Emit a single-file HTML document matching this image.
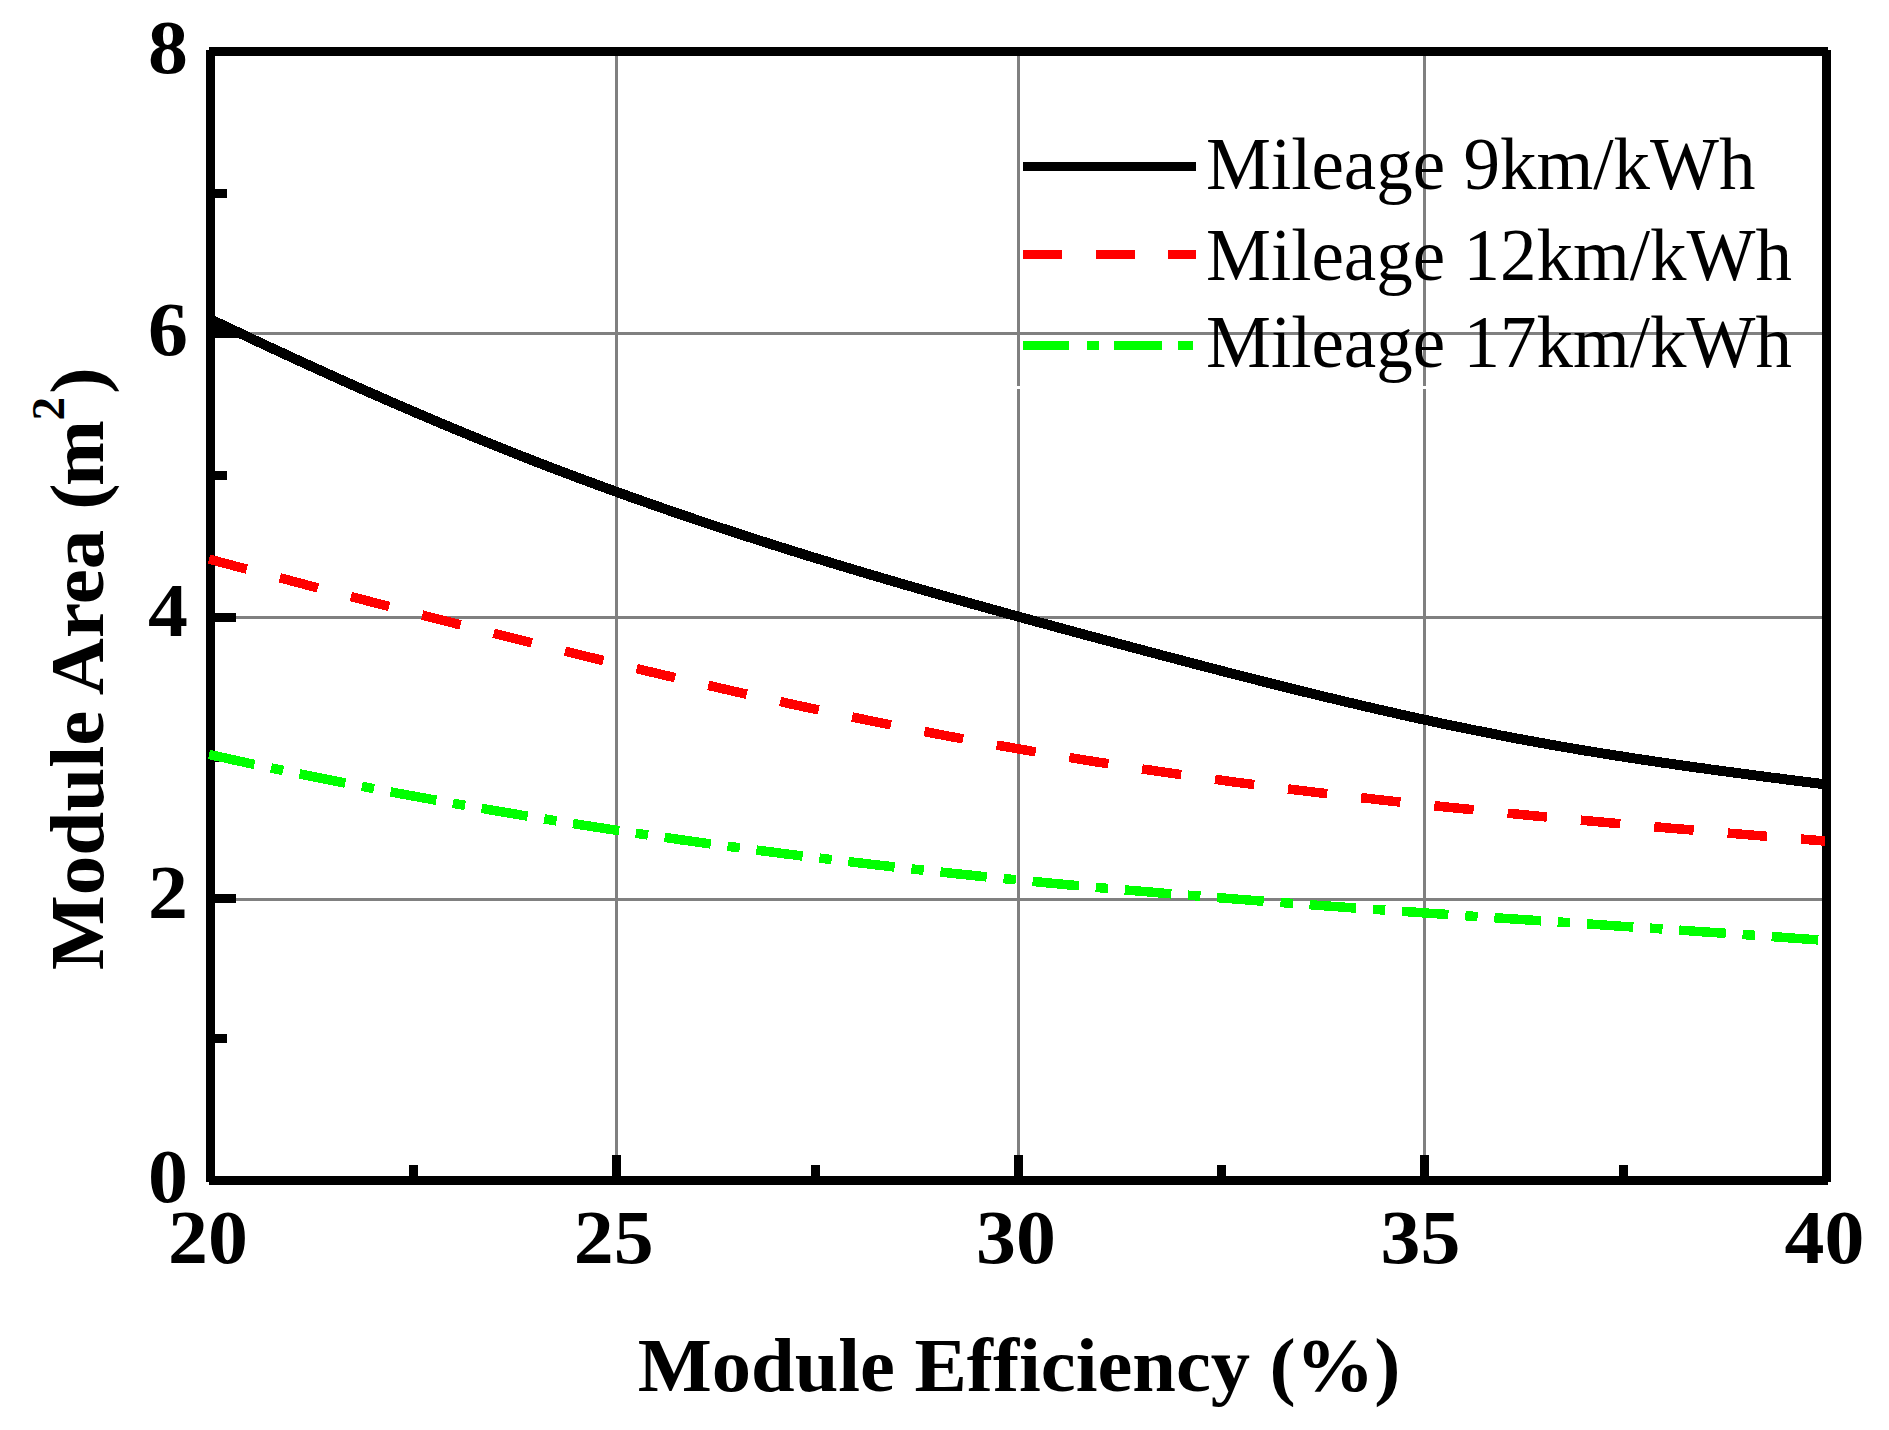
<!DOCTYPE html>
<html lang="en">
<head>
<meta charset="utf-8">
<title>Module Area vs Module Efficiency</title>
<style>
html,body{margin:0;padding:0;background:#fff;}
body{width:1889px;height:1430px;overflow:hidden;}
svg{display:block;}
.b{font-family:"Liberation Serif","Times New Roman",serif;font-weight:bold;fill:#000;}
.r{font-family:"Liberation Serif","Times New Roman",serif;font-weight:normal;fill:#000;}
</style>
</head>
<body>
<svg width="1889" height="1430" viewBox="0 0 1889 1430">
<rect x="0" y="0" width="1889" height="1430" fill="#ffffff"/>
<g fill="#808080" shape-rendering="crispEdges">
<rect x="615" y="56" width="3" height="1120"/>
<rect x="1017" y="56" width="3" height="1120"/>
<rect x="1423" y="56" width="3" height="1120"/>
<rect x="215" y="331.5" width="1607" height="3"/>
<rect x="215" y="616" width="1607" height="3"/>
<rect x="215" y="897.5" width="1607" height="3"/>
</g>
<rect x="1010" y="386" width="800" height="3" fill="#ffffff" shape-rendering="crispEdges"/>
<g class="r" font-size="73">
<text id="l1" x="1206" y="189">Mileage 9km/kWh</text>
<text id="l2" x="1206" y="279.5">Mileage 12km/kWh</text>
<text id="l3" x="1206" y="367">Mileage 17km/kWh</text>
</g>
<g shape-rendering="crispEdges">
<rect x="1023" y="162" width="173" height="9" fill="#000000"/>
<rect x="1023" y="250" width="39.4" height="9" fill="#ff0000"/>
<rect x="1095.7" y="250" width="39.3" height="9" fill="#ff0000"/>
<rect x="1168" y="250" width="28.0" height="9" fill="#ff0000"/>
<rect x="1023" y="341" width="45.6" height="9" fill="#00ff00"/>
<rect x="1086.6" y="341" width="12.2" height="9" fill="#00ff00"/>
<rect x="1114" y="341" width="48.0" height="9" fill="#00ff00"/>
<rect x="1177.5" y="341" width="15.2" height="9" fill="#00ff00"/>
</g>
<path id="cb" d="M211.0 319.5 L217.0 322.4 L223.0 325.2 L229.0 328.1 L235.0 330.9 L241.0 333.7 L247.0 336.5 L253.0 339.4 L259.0 342.2 L265.0 345.0 L271.0 347.8 L277.0 350.6 L283.0 353.3 L289.0 356.1 L295.0 358.9 L301.0 361.6 L307.0 364.4 L313.0 367.1 L319.0 369.8 L325.0 372.6 L331.0 375.3 L337.0 378.0 L343.0 380.7 L349.0 383.4 L355.0 386.0 L361.0 388.7 L367.0 391.4 L373.0 394.0 L379.0 396.6 L385.0 399.3 L391.0 401.9 L397.0 404.5 L403.0 407.1 L409.0 409.7 L415.0 412.3 L421.0 414.8 L427.0 417.4 L433.0 419.9 L439.0 422.5 L445.0 425.0 L451.0 427.5 L457.0 430.0 L463.0 432.5 L469.0 434.9 L475.0 437.4 L481.0 439.9 L487.0 442.3 L493.0 444.7 L499.0 447.1 L505.0 449.5 L511.0 451.9 L517.0 454.3 L523.0 456.7 L529.0 459.0 L535.0 461.4 L541.0 463.7 L547.0 466.0 L553.0 468.3 L559.0 470.6 L565.0 472.8 L571.0 475.1 L577.0 477.4 L583.0 479.6 L589.0 481.8 L595.0 484.0 L601.0 486.2 L607.0 488.4 L613.0 490.6 L619.0 492.8 L625.0 494.9 L631.0 497.1 L637.0 499.2 L643.0 501.3 L649.0 503.4 L655.0 505.5 L661.0 507.6 L667.0 509.7 L673.0 511.8 L679.0 513.8 L685.0 515.9 L691.0 517.9 L697.0 520.0 L703.0 522.0 L709.0 524.0 L715.0 526.0 L721.0 528.0 L727.0 529.9 L733.0 531.9 L739.0 533.9 L745.0 535.8 L751.0 537.7 L757.0 539.7 L763.0 541.6 L769.0 543.5 L775.0 545.4 L781.0 547.3 L787.0 549.2 L793.0 551.1 L799.0 552.9 L805.0 554.8 L811.0 556.7 L817.0 558.5 L823.0 560.3 L829.0 562.2 L835.0 564.0 L841.0 565.8 L847.0 567.6 L853.0 569.4 L859.0 571.2 L865.0 573.0 L871.0 574.8 L877.0 576.5 L883.0 578.3 L889.0 580.1 L895.0 581.8 L901.0 583.6 L907.0 585.3 L913.0 587.0 L919.0 588.8 L925.0 590.5 L931.0 592.2 L937.0 593.9 L943.0 595.6 L949.0 597.3 L955.0 599.0 L961.0 600.7 L967.0 602.4 L973.0 604.1 L979.0 605.7 L985.0 607.4 L991.0 609.1 L997.0 610.7 L1003.0 612.4 L1009.0 614.1 L1015.0 615.7 L1021.0 617.4 L1027.0 619.0 L1033.0 620.6 L1039.0 622.3 L1045.0 623.9 L1051.0 625.5 L1057.0 627.2 L1063.0 628.8 L1069.0 630.4 L1075.0 632.0 L1081.0 633.7 L1087.0 635.3 L1093.0 636.9 L1099.0 638.5 L1105.0 640.1 L1111.0 641.7 L1117.0 643.3 L1123.0 644.9 L1129.0 646.5 L1135.0 648.1 L1141.0 649.7 L1147.0 651.3 L1153.0 652.9 L1159.0 654.5 L1165.0 656.1 L1171.0 657.7 L1177.0 659.2 L1183.0 660.8 L1189.0 662.4 L1195.0 664.0 L1201.0 665.5 L1207.0 667.1 L1213.0 668.7 L1219.0 670.2 L1225.0 671.8 L1231.0 673.3 L1237.0 674.9 L1243.0 676.4 L1249.0 677.9 L1255.0 679.4 L1261.0 681.0 L1267.0 682.5 L1273.0 684.0 L1279.0 685.5 L1285.0 687.0 L1291.0 688.5 L1297.0 690.0 L1303.0 691.5 L1309.0 692.9 L1315.0 694.4 L1321.0 695.9 L1327.0 697.3 L1333.0 698.7 L1339.0 700.2 L1345.0 701.6 L1351.0 703.0 L1357.0 704.4 L1363.0 705.9 L1369.0 707.2 L1375.0 708.6 L1381.0 710.0 L1387.0 711.4 L1393.0 712.7 L1399.0 714.1 L1405.0 715.4 L1411.0 716.8 L1417.0 718.1 L1423.0 719.4 L1429.0 720.7 L1435.0 722.0 L1441.0 723.3 L1447.0 724.6 L1453.0 725.8 L1459.0 727.1 L1465.0 728.3 L1471.0 729.5 L1477.0 730.7 L1483.0 731.9 L1489.0 733.1 L1495.0 734.3 L1501.0 735.5 L1507.0 736.6 L1513.0 737.8 L1519.0 738.9 L1525.0 740.0 L1531.0 741.1 L1537.0 742.2 L1543.0 743.3 L1549.0 744.4 L1555.0 745.4 L1561.0 746.5 L1567.0 747.5 L1573.0 748.5 L1579.0 749.6 L1585.0 750.6 L1591.0 751.5 L1597.0 752.5 L1603.0 753.5 L1609.0 754.4 L1615.0 755.4 L1621.0 756.3 L1627.0 757.3 L1633.0 758.2 L1639.0 759.1 L1645.0 760.0 L1651.0 760.9 L1657.0 761.8 L1663.0 762.7 L1669.0 763.5 L1675.0 764.4 L1681.0 765.3 L1687.0 766.1 L1693.0 767.0 L1699.0 767.8 L1705.0 768.6 L1711.0 769.5 L1717.0 770.3 L1723.0 771.1 L1729.0 771.9 L1735.0 772.7 L1741.0 773.5 L1747.0 774.3 L1753.0 775.1 L1759.0 775.9 L1765.0 776.7 L1771.0 777.5 L1777.0 778.2 L1783.0 779.0 L1789.0 779.8 L1795.0 780.6 L1801.0 781.3 L1807.0 782.1 L1813.0 782.8 L1819.0 783.6 L1823.0 784.1" fill="none" stroke="#000000" stroke-width="10" stroke-linejoin="round" shape-rendering="crispEdges"/>
<g fill="#000000" shape-rendering="crispEdges">
<rect x="209" y="47" width="1619" height="9"/>
<rect x="209" y="1176" width="1619" height="9"/>
<rect x="206" y="50" width="9" height="1132"/>
<rect x="1822" y="50" width="9" height="1132"/>
<polygon points="215,319.5 236,329.4 243,332.5 243,338 215,338"/>
<rect x="215" y="329.0" width="21" height="9"/>
<rect x="215" y="613.0" width="21" height="9"/>
<rect x="215" y="894.3" width="21" height="9"/>
<rect x="215" y="189.0" width="12" height="9"/>
<rect x="215" y="471.0" width="12" height="9"/>
<rect x="215" y="752.6" width="12" height="9"/>
<rect x="215" y="1034.0" width="12" height="9"/>
<rect x="611.6" y="1155" width="9" height="21"/>
<rect x="1013.9" y="1155" width="9" height="21"/>
<rect x="1419.5" y="1155" width="9" height="21"/>
<rect x="408.7" y="1165" width="9" height="11"/>
<rect x="811.0" y="1165" width="9" height="11"/>
<rect x="1216.5" y="1165" width="9" height="11"/>
<rect x="1619.3" y="1165" width="9" height="11"/>
</g>
<path id="cr" d="M209.0 559.1 L215.0 560.7 L221.0 562.3 L227.0 563.9 L233.0 565.5 L239.0 567.1 L245.0 568.7 L251.0 570.2 L257.0 571.8 L263.0 573.4 L269.0 575.0 L275.0 576.6 L281.0 578.2 L287.0 579.7 L293.0 581.3 L299.0 582.9 L305.0 584.5 L311.0 586.1 L317.0 587.6 L323.0 589.2 L329.0 590.8 L335.0 592.4 L341.0 593.9 L347.0 595.5 L353.0 597.1 L359.0 598.6 L365.0 600.2 L371.0 601.8 L377.0 603.3 L383.0 604.9 L389.0 606.5 L395.0 608.0 L401.0 609.6 L407.0 611.1 L413.0 612.7 L419.0 614.2 L425.0 615.8 L431.0 617.3 L437.0 618.9 L443.0 620.4 L449.0 621.9 L455.0 623.5 L461.0 625.0 L467.0 626.5 L473.0 628.1 L479.0 629.6 L485.0 631.1 L491.0 632.6 L497.0 634.2 L503.0 635.7 L509.0 637.2 L515.0 638.7 L521.0 640.2 L527.0 641.7 L533.0 643.2 L539.0 644.7 L545.0 646.2 L551.0 647.7 L557.0 649.2 L563.0 650.7 L569.0 652.2 L575.0 653.6 L581.0 655.1 L587.0 656.6 L593.0 658.0 L599.0 659.5 L605.0 661.0 L611.0 662.4 L617.0 663.9 L623.0 665.3 L629.0 666.8 L635.0 668.2 L641.0 669.6 L647.0 671.1 L653.0 672.5 L659.0 673.9 L665.0 675.3 L671.0 676.7 L677.0 678.1 L683.0 679.5 L689.0 680.9 L695.0 682.3 L701.0 683.7 L707.0 685.1 L713.0 686.5 L719.0 687.9 L725.0 689.2 L731.0 690.6 L737.0 692.0 L743.0 693.3 L749.0 694.7 L755.0 696.0 L761.0 697.4 L767.0 698.7 L773.0 700.0 L779.0 701.3 L785.0 702.6 L791.0 704.0 L797.0 705.3 L803.0 706.6 L809.0 707.9 L815.0 709.1 L821.0 710.4 L827.0 711.7 L833.0 713.0 L839.0 714.2 L845.0 715.5 L851.0 716.7 L857.0 718.0 L863.0 719.2 L869.0 720.5 L875.0 721.7 L881.0 722.9 L887.0 724.1 L893.0 725.3 L899.0 726.5 L905.0 727.7 L911.0 728.9 L917.0 730.1 L923.0 731.2 L929.0 732.4 L935.0 733.6 L941.0 734.7 L947.0 735.9 L953.0 737.0 L959.0 738.1 L965.0 739.2 L971.0 740.4 L977.0 741.5 L983.0 742.6 L989.0 743.7 L995.0 744.7 L1001.0 745.8 L1007.0 746.9 L1013.0 747.9 L1019.0 749.0 L1025.0 750.0 L1031.0 751.1 L1037.0 752.1 L1043.0 753.1 L1049.0 754.1 L1055.0 755.1 L1061.0 756.1 L1067.0 757.1 L1073.0 758.1 L1079.0 759.1 L1085.0 760.1 L1091.0 761.0 L1097.0 762.0 L1103.0 762.9 L1109.0 763.9 L1115.0 764.8 L1121.0 765.7 L1127.0 766.6 L1133.0 767.6 L1139.0 768.5 L1145.0 769.4 L1151.0 770.2 L1157.0 771.1 L1163.0 772.0 L1169.0 772.9 L1175.0 773.7 L1181.0 774.6 L1187.0 775.5 L1193.0 776.3 L1199.0 777.1 L1205.0 778.0 L1211.0 778.8 L1217.0 779.6 L1223.0 780.4 L1229.0 781.3 L1235.0 782.1 L1241.0 782.9 L1247.0 783.6 L1253.0 784.4 L1259.0 785.2 L1265.0 786.0 L1271.0 786.8 L1277.0 787.5 L1283.0 788.3 L1289.0 789.0 L1295.0 789.8 L1301.0 790.5 L1307.0 791.3 L1313.0 792.0 L1319.0 792.7 L1325.0 793.4 L1331.0 794.1 L1337.0 794.9 L1343.0 795.6 L1349.0 796.3 L1355.0 797.0 L1361.0 797.7 L1367.0 798.3 L1373.0 799.0 L1379.0 799.7 L1385.0 800.4 L1391.0 801.0 L1397.0 801.7 L1403.0 802.4 L1409.0 803.0 L1415.0 803.7 L1421.0 804.3 L1427.0 805.0 L1433.0 805.6 L1439.0 806.2 L1445.0 806.9 L1451.0 807.5 L1457.0 808.1 L1463.0 808.7 L1469.0 809.3 L1475.0 810.0 L1481.0 810.6 L1487.0 811.2 L1493.0 811.8 L1499.0 812.4 L1505.0 813.0 L1511.0 813.5 L1517.0 814.1 L1523.0 814.7 L1529.0 815.3 L1535.0 815.9 L1541.0 816.4 L1547.0 817.0 L1553.0 817.6 L1559.0 818.1 L1565.0 818.7 L1571.0 819.3 L1577.0 819.8 L1583.0 820.4 L1589.0 820.9 L1595.0 821.5 L1601.0 822.0 L1607.0 822.6 L1613.0 823.1 L1619.0 823.6 L1625.0 824.2 L1631.0 824.7 L1637.0 825.2 L1643.0 825.8 L1649.0 826.3 L1655.0 826.8 L1661.0 827.3 L1667.0 827.9 L1673.0 828.4 L1679.0 828.9 L1685.0 829.4 L1691.0 829.9 L1697.0 830.4 L1703.0 831.0 L1709.0 831.5 L1715.0 832.0 L1721.0 832.5 L1727.0 833.0 L1733.0 833.5 L1739.0 834.0 L1745.0 834.5 L1751.0 835.0 L1757.0 835.5 L1763.0 836.0 L1769.0 836.5 L1775.0 837.0 L1781.0 837.5 L1787.0 838.0 L1793.0 838.5 L1799.0 838.9 L1805.0 839.4 L1811.0 839.9 L1817.0 840.4 L1823.0 840.9 L1825.0 841.1" fill="none" stroke="#ff0000" stroke-width="9.5" stroke-dasharray="39.5 34.15" stroke-dashoffset="0.5" shape-rendering="crispEdges"/>
<path id="cg" d="M209.0 754.5 L215.0 755.8 L221.0 757.1 L227.0 758.4 L233.0 759.8 L239.0 761.1 L245.0 762.4 L251.0 763.7 L257.0 764.9 L263.0 766.2 L269.0 767.5 L275.0 768.8 L281.0 770.0 L287.0 771.3 L293.0 772.5 L299.0 773.8 L305.0 775.0 L311.0 776.2 L317.0 777.4 L323.0 778.6 L329.0 779.8 L335.0 781.0 L341.0 782.2 L347.0 783.4 L353.0 784.6 L359.0 785.8 L365.0 786.9 L371.0 788.1 L377.0 789.2 L383.0 790.4 L389.0 791.5 L395.0 792.7 L401.0 793.8 L407.0 794.9 L413.0 796.0 L419.0 797.1 L425.0 798.2 L431.0 799.3 L437.0 800.4 L443.0 801.5 L449.0 802.6 L455.0 803.7 L461.0 804.7 L467.0 805.8 L473.0 806.8 L479.0 807.9 L485.0 808.9 L491.0 810.0 L497.0 811.0 L503.0 812.0 L509.0 813.0 L515.0 814.0 L521.0 815.1 L527.0 816.1 L533.0 817.0 L539.0 818.0 L545.0 819.0 L551.0 820.0 L557.0 821.0 L563.0 821.9 L569.0 822.9 L575.0 823.8 L581.0 824.8 L587.0 825.7 L593.0 826.7 L599.0 827.6 L605.0 828.5 L611.0 829.4 L617.0 830.4 L623.0 831.3 L629.0 832.2 L635.0 833.1 L641.0 834.0 L647.0 834.8 L653.0 835.7 L659.0 836.6 L665.0 837.5 L671.0 838.3 L677.0 839.2 L683.0 840.1 L689.0 840.9 L695.0 841.7 L701.0 842.6 L707.0 843.4 L713.0 844.2 L719.0 845.1 L725.0 845.9 L731.0 846.7 L737.0 847.5 L743.0 848.3 L749.0 849.1 L755.0 849.9 L761.0 850.7 L767.0 851.5 L773.0 852.2 L779.0 853.0 L785.0 853.8 L791.0 854.5 L797.0 855.3 L803.0 856.1 L809.0 856.8 L815.0 857.6 L821.0 858.3 L827.0 859.0 L833.0 859.8 L839.0 860.5 L845.0 861.2 L851.0 861.9 L857.0 862.6 L863.0 863.3 L869.0 864.0 L875.0 864.7 L881.0 865.4 L887.0 866.1 L893.0 866.8 L899.0 867.5 L905.0 868.1 L911.0 868.8 L917.0 869.5 L923.0 870.1 L929.0 870.8 L935.0 871.4 L941.0 872.1 L947.0 872.7 L953.0 873.4 L959.0 874.0 L965.0 874.6 L971.0 875.2 L977.0 875.9 L983.0 876.5 L989.0 877.1 L995.0 877.7 L1001.0 878.3 L1007.0 878.9 L1013.0 879.5 L1019.0 880.1 L1025.0 880.7 L1031.0 881.3 L1037.0 881.8 L1043.0 882.4 L1049.0 883.0 L1055.0 883.5 L1061.0 884.1 L1067.0 884.7 L1073.0 885.2 L1079.0 885.8 L1085.0 886.3 L1091.0 886.9 L1097.0 887.4 L1103.0 888.0 L1109.0 888.5 L1115.0 889.0 L1121.0 889.5 L1127.0 890.1 L1133.0 890.6 L1139.0 891.1 L1145.0 891.6 L1151.0 892.1 L1157.0 892.6 L1163.0 893.2 L1169.0 893.7 L1175.0 894.2 L1181.0 894.7 L1187.0 895.1 L1193.0 895.6 L1199.0 896.1 L1205.0 896.6 L1211.0 897.1 L1217.0 897.6 L1223.0 898.1 L1229.0 898.5 L1235.0 899.0 L1241.0 899.5 L1247.0 899.9 L1253.0 900.4 L1259.0 900.9 L1265.0 901.3 L1271.0 901.8 L1277.0 902.2 L1283.0 902.7 L1289.0 903.2 L1295.0 903.6 L1301.0 904.1 L1307.0 904.5 L1313.0 904.9 L1319.0 905.4 L1325.0 905.8 L1331.0 906.3 L1337.0 906.7 L1343.0 907.1 L1349.0 907.6 L1355.0 908.0 L1361.0 908.4 L1367.0 908.9 L1373.0 909.3 L1379.0 909.7 L1385.0 910.1 L1391.0 910.6 L1397.0 911.0 L1403.0 911.4 L1409.0 911.8 L1415.0 912.2 L1421.0 912.7 L1427.0 913.1 L1433.0 913.5 L1439.0 913.9 L1445.0 914.3 L1451.0 914.7 L1457.0 915.1 L1463.0 915.5 L1469.0 916.0 L1475.0 916.4 L1481.0 916.8 L1487.0 917.2 L1493.0 917.6 L1499.0 918.0 L1505.0 918.4 L1511.0 918.8 L1517.0 919.2 L1523.0 919.6 L1529.0 920.0 L1535.0 920.4 L1541.0 920.8 L1547.0 921.2 L1553.0 921.6 L1559.0 922.0 L1565.0 922.4 L1571.0 922.8 L1577.0 923.2 L1583.0 923.6 L1589.0 924.0 L1595.0 924.4 L1601.0 924.8 L1607.0 925.3 L1613.0 925.7 L1619.0 926.1 L1625.0 926.5 L1631.0 926.9 L1637.0 927.3 L1643.0 927.7 L1649.0 928.1 L1655.0 928.5 L1661.0 928.9 L1667.0 929.3 L1673.0 929.7 L1679.0 930.1 L1685.0 930.5 L1691.0 930.9 L1697.0 931.4 L1703.0 931.8 L1709.0 932.2 L1715.0 932.6 L1721.0 933.0 L1727.0 933.4 L1733.0 933.8 L1739.0 934.3 L1745.0 934.7 L1751.0 935.1 L1757.0 935.5 L1763.0 936.0 L1769.0 936.4 L1775.0 936.8 L1781.0 937.2 L1787.0 937.7 L1793.0 938.1 L1799.0 938.5 L1805.0 939.0 L1811.0 939.4 L1817.0 939.8 L1823.0 940.3 L1825.0 940.4" fill="none" stroke="#00ff00" stroke-width="9.5" stroke-dasharray="46.6 16.85 12.4 16.8" stroke-dashoffset="0" shape-rendering="crispEdges"/>
<g class="b" font-size="76">
<text class="yt" transform="translate(168 72.5) scale(1.05 1)" x="0" y="0" text-anchor="middle">8</text>
<text class="yt" transform="translate(168 354.5) scale(1.05 1)" x="0" y="0" text-anchor="middle">6</text>
<text class="yt" transform="translate(168 636.2) scale(1.05 1)" x="0" y="0" text-anchor="middle">4</text>
<text class="yt" transform="translate(168 918.0) scale(1.05 1)" x="0" y="0" text-anchor="middle">2</text>
<text class="yt" transform="translate(168 1201.5) scale(1.05 1)" x="0" y="0" text-anchor="middle">0</text>
<text class="xt" transform="translate(208 1262.5) scale(1.05 1)" x="0" y="0" text-anchor="middle">20</text>
<text class="xt" transform="translate(613.7 1262.5) scale(1.05 1)" x="0" y="0" text-anchor="middle">25</text>
<text class="xt" transform="translate(1016 1262.5) scale(1.05 1)" x="0" y="0" text-anchor="middle">30</text>
<text class="xt" transform="translate(1420.4 1262.5) scale(1.05 1)" x="0" y="0" text-anchor="middle">35</text>
<text class="xt" transform="translate(1824.5 1262.5) scale(1.05 1)" x="0" y="0" text-anchor="middle">40</text>
</g>
<text id="xl" class="b" font-size="77" transform="translate(1019 1390.5) scale(1.019 1)" x="0" y="0" text-anchor="middle">Module Efficiency (%)</text>
<text id="yl" class="b" font-size="77" transform="translate(103 970) rotate(-90) scale(1.028 1)" x="0" y="0">Module Area (<tspan dx="-2.4">m</tspan><tspan font-size="46" dy="-39" dx="-0.5">2</tspan><tspan dy="39" dx="3">)</tspan></text>
</svg>
</body>
</html>
